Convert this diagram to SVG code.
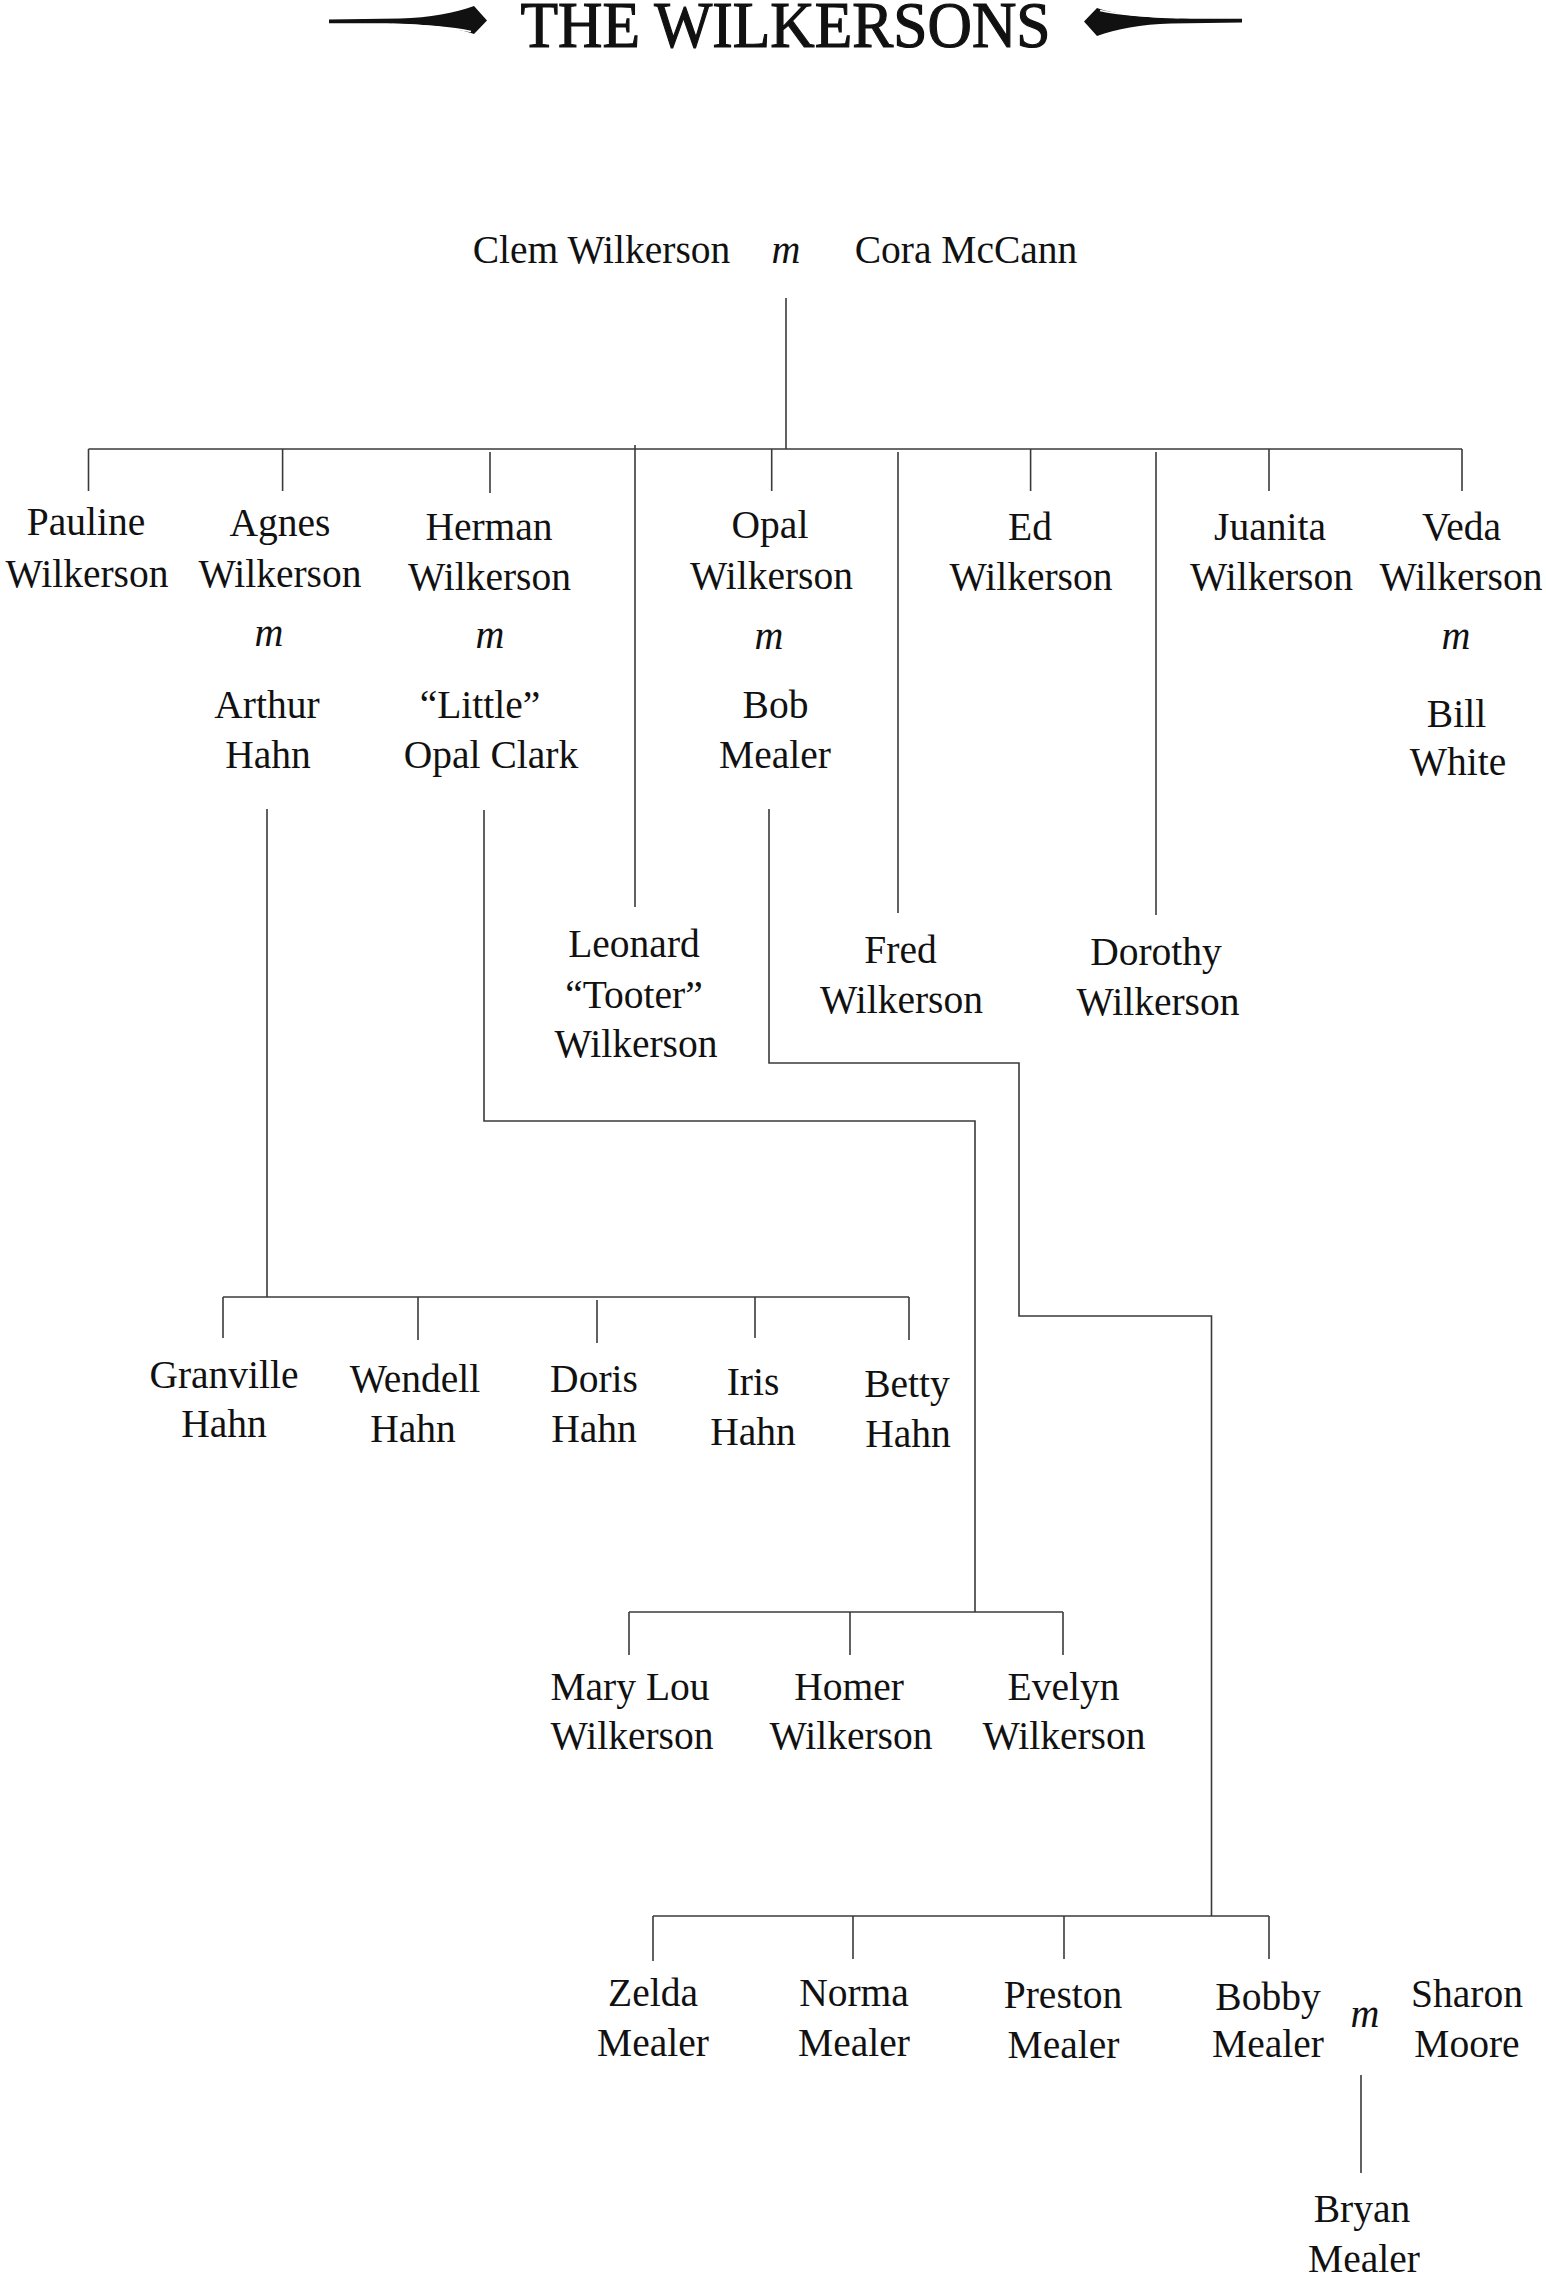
<svg xmlns="http://www.w3.org/2000/svg" width="1546" height="2274" viewBox="0 0 1546 2274">
<style>
  .n { font-family: "Liberation Serif", "Times New Roman", serif; font-size: 39.5px; fill: #111; text-anchor: middle; }
  .m { font-family: "Liberation Serif", "Times New Roman", serif; font-size: 40px; font-style: italic; fill: #111; text-anchor: middle; }
  .title { font-family: "Liberation Serif", "Times New Roman", serif; font-size: 65px; font-weight: normal; fill: #111; stroke: #111; stroke-width: 1.2; text-anchor: middle; }
  .c { fill: none; stroke: #3a3a3a; stroke-width: 1.6; }
</style>
<defs>
  <g id="orn">
    <path d="M329,19.6 L400,18.6 C430,17.8 455,13 474,6 L487,20.5 L474,34 C455,27 420,23.5 380,23.3 L329,23.2 Z" fill="#111"/>
    <path d="M392,24.6 C425,25.2 452,27.5 471,31.5" fill="none" stroke="#fff" stroke-width="1.6"/>
  </g>
</defs>
<rect width="1546" height="2274" fill="#fff"/>

<g id="title">
  <use href="#orn"/>
  <use href="#orn" transform="rotate(180 785.5 21)"/>
  <text class="title" x="785.5" y="47" textLength="530" lengthAdjust="spacingAndGlyphs">THE WILKERSONS</text>
</g>

<g id="connectors">
  <line class="c" x1="786" y1="298" x2="786" y2="449"/>
  <line class="c" x1="88.5" y1="449" x2="1462" y2="449"/>
  <line class="c" x1="88.5" y1="449" x2="88.5" y2="491"/>
  <line class="c" x1="282.6" y1="449" x2="282.6" y2="491"/>
  <line class="c" x1="490" y1="452" x2="490" y2="493"/>
  <line class="c" x1="635" y1="445" x2="635" y2="907"/>
  <line class="c" x1="771.7" y1="449" x2="771.7" y2="491"/>
  <line class="c" x1="898" y1="452" x2="898" y2="913"/>
  <line class="c" x1="1030.6" y1="449" x2="1030.6" y2="491"/>
  <line class="c" x1="1156" y1="452" x2="1156" y2="915"/>
  <line class="c" x1="1269" y1="449" x2="1269" y2="491"/>
  <line class="c" x1="1462" y1="449" x2="1462" y2="491"/>

  <line class="c" x1="267" y1="809" x2="267" y2="1297"/>
  <line class="c" x1="223" y1="1297" x2="909" y2="1297"/>
  <line class="c" x1="223" y1="1297" x2="223" y2="1338"/>
  <line class="c" x1="418" y1="1297" x2="418" y2="1340"/>
  <line class="c" x1="597" y1="1300" x2="597" y2="1343"/>
  <line class="c" x1="755" y1="1297" x2="755" y2="1338"/>
  <line class="c" x1="909" y1="1297" x2="909" y2="1340"/>

  <polyline class="c" points="484,810 484,1121 975,1121 975,1612"/>
  <line class="c" x1="629" y1="1612" x2="1063" y2="1612"/>
  <line class="c" x1="629" y1="1612" x2="629" y2="1655"/>
  <line class="c" x1="850" y1="1612" x2="850" y2="1655"/>
  <line class="c" x1="1063" y1="1612" x2="1063" y2="1655"/>

  <polyline class="c" points="769,809 769,1063 1019,1063 1019,1316 1211.5,1316 1211.5,1916"/>
  <line class="c" x1="653" y1="1916" x2="1269" y2="1916"/>
  <line class="c" x1="653" y1="1916" x2="653" y2="1961"/>
  <line class="c" x1="853" y1="1916" x2="853" y2="1959"/>
  <line class="c" x1="1064" y1="1916" x2="1064" y2="1959"/>
  <line class="c" x1="1269" y1="1916" x2="1269" y2="1959"/>

  <line class="c" x1="1361" y1="2075" x2="1361" y2="2173"/>
</g>

<g id="clem-cora">
  <text class="n" x="601.5" y="263">Clem Wilkerson</text>
  <text class="m" x="786" y="263">m</text>
  <text class="n" x="966" y="263">Cora McCann</text>
</g>

<g id="pauline">
  <text class="n" x="86" y="535">Pauline</text>
  <text class="n" x="87" y="587">Wilkerson</text>
</g>
<g id="agnes-arthur">
  <text class="n" x="280" y="536">Agnes</text>
  <text class="n" x="280" y="587">Wilkerson</text>
  <text class="m" x="269" y="646">m</text>
  <text class="n" x="267" y="718">Arthur</text>
  <text class="n" x="268" y="768">Hahn</text>
</g>
<g id="herman-opal">
  <text class="n" x="489" y="540">Herman</text>
  <text class="n" x="489.5" y="590">Wilkerson</text>
  <text class="m" x="490" y="648">m</text>
  <text class="n" x="480" y="718">“Little”</text>
  <text class="n" x="491" y="768">Opal Clark</text>
</g>
<g id="opal-bob">
  <text class="n" x="770" y="538">Opal</text>
  <text class="n" x="771.5" y="589">Wilkerson</text>
  <text class="m" x="769" y="649">m</text>
  <text class="n" x="775.5" y="718">Bob</text>
  <text class="n" x="775" y="768">Mealer</text>
</g>
<g id="ed">
  <text class="n" x="1030" y="540">Ed</text>
  <text class="n" x="1031" y="590">Wilkerson</text>
</g>
<g id="juanita">
  <text class="n" x="1270" y="540">Juanita</text>
  <text class="n" x="1271.5" y="590">Wilkerson</text>
</g>
<g id="veda-bill">
  <text class="n" x="1461.5" y="540">Veda</text>
  <text class="n" x="1461" y="590">Wilkerson</text>
  <text class="m" x="1456" y="649">m</text>
  <text class="n" x="1456.5" y="727">Bill</text>
  <text class="n" x="1458" y="775">White</text>
</g>

<g id="leonard">
  <text class="n" x="634" y="957">Leonard</text>
  <text class="n" x="634" y="1008">“Tooter”</text>
  <text class="n" x="636" y="1057">Wilkerson</text>
</g>
<g id="fred">
  <text class="n" x="900.5" y="963">Fred</text>
  <text class="n" x="901.5" y="1013">Wilkerson</text>
</g>
<g id="dorothy">
  <text class="n" x="1156" y="965">Dorothy</text>
  <text class="n" x="1158" y="1015">Wilkerson</text>
</g>

<g id="granville">
  <text class="n" x="224" y="1388">Granville</text>
  <text class="n" x="224" y="1437">Hahn</text>
</g>
<g id="wendell">
  <text class="n" x="415" y="1392">Wendell</text>
  <text class="n" x="413" y="1442">Hahn</text>
</g>
<g id="doris">
  <text class="n" x="594" y="1392">Doris</text>
  <text class="n" x="594" y="1442">Hahn</text>
</g>
<g id="iris">
  <text class="n" x="753" y="1395">Iris</text>
  <text class="n" x="753" y="1445">Hahn</text>
</g>
<g id="betty">
  <text class="n" x="907" y="1397">Betty</text>
  <text class="n" x="908" y="1447">Hahn</text>
</g>

<g id="marylou">
  <text class="n" x="630" y="1700">Mary Lou</text>
  <text class="n" x="632" y="1749">Wilkerson</text>
</g>
<g id="homer">
  <text class="n" x="849" y="1700">Homer</text>
  <text class="n" x="851" y="1749">Wilkerson</text>
</g>
<g id="evelyn">
  <text class="n" x="1063.5" y="1700">Evelyn</text>
  <text class="n" x="1064" y="1749">Wilkerson</text>
</g>

<g id="zelda">
  <text class="n" x="653" y="2006">Zelda</text>
  <text class="n" x="653" y="2056">Mealer</text>
</g>
<g id="norma">
  <text class="n" x="854" y="2006">Norma</text>
  <text class="n" x="854" y="2056">Mealer</text>
</g>
<g id="preston">
  <text class="n" x="1063" y="2008">Preston</text>
  <text class="n" x="1063.5" y="2058">Mealer</text>
</g>
<g id="bobby-sharon">
  <text class="n" x="1268" y="2010">Bobby</text>
  <text class="n" x="1268" y="2057">Mealer</text>
  <text class="m" x="1365" y="2027">m</text>
  <text class="n" x="1467" y="2007">Sharon</text>
  <text class="n" x="1467" y="2057">Moore</text>
</g>
<g id="bryan">
  <text class="n" x="1362" y="2222">Bryan</text>
  <text class="n" x="1364" y="2272">Mealer</text>
</g>
</svg>
